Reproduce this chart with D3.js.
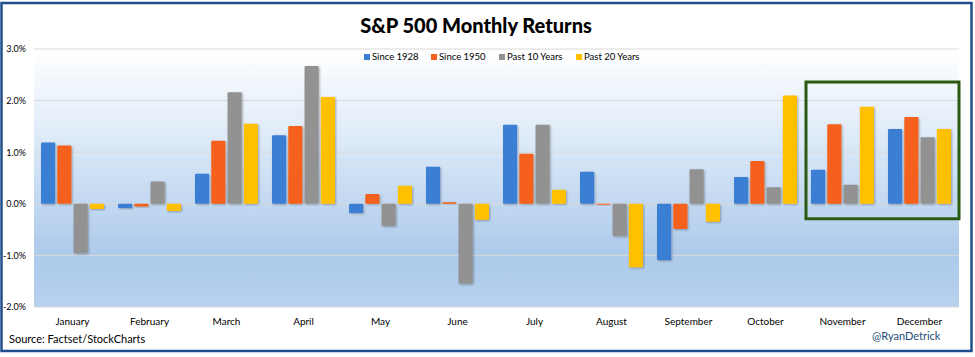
<!DOCTYPE html>
<html><head><meta charset="utf-8">
<script src="https://cdn.jsdelivr.net/npm/d3@7"></script>
<style>body{margin:0;background:#fff}svg{display:block}text{font-family:Lato,"Open Sans",sans-serif}</style>
</head><body><div id="c"></div>
<script>
const months = ["January","February","March","April","May","June","July","August","September","October","November","December"];
const seriesNames = ["Since 1928","Since 1950","Past 10 Years","Past 20 Years"];
const seriesColors = ["#3a7fd5","#f5611c","#929292","#ffc000"];
const since1928 = [1.19,-0.08,0.58,1.33,-0.18,0.72,1.53,0.62,-1.09,0.52,0.66,1.45];
const since1950 = [1.13,-0.05,1.22,1.51,0.19,0.03,0.97,-0.02,-0.49,0.83,1.54,1.68];
const past10 = [-0.96,0.43,2.16,2.67,-0.43,-1.55,1.53,-0.63,0.67,0.32,0.37,1.29];
const past20 = [-0.10,-0.14,1.55,2.07,0.35,-0.31,0.27,-1.23,-0.35,2.10,1.88,1.45];
const yTicks = [-2,-1,0,1,2,3];
const title = "S&P 500 Monthly Returns";
const source = "Source:  Factset/StockCharts";
const credit = "@RyanDetrick";
const highlight = {from:"November", to:"December", top:2.36, bottom:-0.29};

const W=975,H=357;
const svg=d3.select("#c").append("svg").attr("width",W).attr("height",H);
const defs=svg.append("defs");
const g=defs.append("linearGradient").attr("id","bg").attr("x1",0).attr("y1",0).attr("x2",0).attr("y2",1);
[[0,"#ffffff"],[0.3,"#e2edf9"],[0.6,"#c2d8f1"],[0.8,"#adcaeb"],[1,"#b7d1ee"]].forEach(s=>g.append("stop").attr("offset",s[0]).attr("stop-color",s[1]));
const f=defs.append("filter").attr("id","sh").attr("x","-20%").attr("y","-20%").attr("width","150%").attr("height","150%");
f.append("feDropShadow").attr("dx",1).attr("dy",1).attr("stdDeviation",0.8).attr("flood-color","#000").attr("flood-opacity",0.3);

const x0=d3.scaleBand().domain(months).range([34,958]).padding(0);
const x1=d3.scaleBand().domain(seriesNames).range([0,x0.bandwidth()]).paddingInner(0.13).paddingOuter(0.43);
const y=d3.scaleLinear().domain([-2,3]).range([307,49]);

// outer frame
svg.append("rect").attr("x",1.5).attr("y",3).attr("width",970).attr("height",348).attr("fill","#fff").attr("stroke","#1f4e8c").attr("stroke-width",2.5);

// plot background
svg.append("rect").attr("x",x0.range()[0]).attr("y",y(3)).attr("width",x0.range()[1]-x0.range()[0]+1).attr("height",y(-2)-y(3)).attr("fill","url(#bg)");

// gridlines
svg.append("g").selectAll("line").data(yTicks).join("line")
  .attr("x1",x0.range()[0]).attr("x2",x0.range()[1]+1).attr("y1",d=>y(d)).attr("y2",d=>y(d))
  .attr("stroke","#d9d9d9").attr("stroke-width",1);

// y axis labels
const yAxis=d3.axisLeft(y).tickValues(yTicks).tickFormat(d=>d.toFixed(1)+"%").tickSize(0).tickPadding(0);
const ya=svg.append("g").attr("transform","translate(26,0)").call(yAxis);
ya.select(".domain").remove();
ya.selectAll("text").attr("font-size",9).attr("fill","#000").attr("font-family","Lato,sans-serif").attr("dy","0.33em");

// x axis labels
const xAxis=d3.axisBottom(x0).tickSize(0).tickPadding(0);
const xa=svg.append("g").attr("transform","translate(0,318)").call(xAxis);
xa.select(".domain").remove();
xa.selectAll("text").attr("font-size",10).attr("fill","#000").attr("font-family","Lato,sans-serif");

// bars
const allSeries=[since1928,since1950,past10,past20];
const rows=months.map((m,i)=>({month:m,vals:seriesNames.map((s,j)=>({s,v:allSeries[j][i],c:seriesColors[j]}))}));
svg.append("g").selectAll("g").data(rows).join("g").attr("transform",d=>`translate(${x0(d.month)},0)`)
  .selectAll("rect").data(d=>d.vals).join("rect")
  .attr("x",d=>x1(d.s)).attr("width",x1.bandwidth())
  .attr("y",d=>y(Math.max(0,d.v))).attr("height",d=>Math.max(1,Math.abs(y(d.v)-y(0))))
  .attr("fill",d=>d.c).attr("rx",1).attr("filter","url(#sh)");

// highlight box
svg.append("rect").attr("x",x0(highlight.from)+2).attr("y",y(highlight.top))
  .attr("width",x0(highlight.to)+x0.bandwidth()+1-(x0(highlight.from)+2)).attr("height",y(highlight.bottom)-y(highlight.top))
  .attr("fill","none").attr("stroke","#2a5a12").attr("stroke-width",3);

// title
svg.append("text").attr("x",476).attr("y",33).attr("text-anchor","middle").attr("font-size",20).attr("font-weight","900").attr("fill","#000").text(title);

// legend
const legX=[364,431,499,576];
const leg=svg.append("g").selectAll("g").data(seriesNames).join("g").attr("transform",(d,i)=>`translate(${legX[i]},57)`);
leg.append("rect").attr("x",0).attr("y",-3).attr("width",6).attr("height",6).attr("fill",(d,i)=>seriesColors[i]);
leg.append("text").attr("x",8).attr("y",0).attr("dy","0.35em").attr("font-size",9.5).attr("fill","#000").text(d=>d);

// source + credit
svg.append("text").attr("x",9).attr("y",343).attr("font-size",11).attr("fill","#000").text(source);
svg.append("text").attr("x",872).attr("y",340).attr("font-size",11).attr("fill","#1f4e79").text(credit);
</script></body></html>
